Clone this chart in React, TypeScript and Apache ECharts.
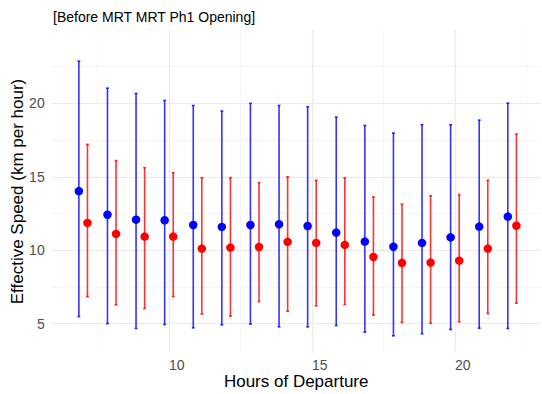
import React, { useEffect, useRef } from "react";
import * as echarts from "echarts";

const hours = [7, 8, 9, 10, 11, 12, 13, 14, 15, 16, 17, 18, 19, 20, 21, 22];
const blueMean = [14.03, 12.42, 12.08, 12.04, 11.72, 11.59, 11.72, 11.77, 11.65, 11.2, 10.59, 10.24, 10.5, 10.88, 11.61, 12.29];
const blueLow = [5.48, 5.0, 4.67, 4.94, 4.71, 4.92, 4.97, 4.78, 4.78, 4.87, 4.42, 4.17, 4.31, 4.6, 4.69, 4.67];
const blueHigh = [22.88, 21.04, 20.68, 20.2, 19.86, 19.48, 20.0, 19.86, 19.77, 19.07, 18.5, 17.98, 18.55, 18.55, 18.86, 20.02];
const redMean = [11.86, 11.11, 10.93, 10.93, 10.11, 10.18, 10.22, 10.57, 10.5, 10.36, 9.54, 9.14, 9.16, 9.29, 10.11, 11.67];
const redLow = [6.84, 6.28, 6.03, 6.84, 5.65, 5.51, 6.5, 5.85, 6.21, 6.3, 5.58, 5.08, 5.03, 5.12, 5.69, 6.39];
const redHigh = [17.21, 16.1, 15.62, 15.28, 14.94, 14.94, 14.6, 15.0, 14.76, 14.92, 13.63, 13.13, 13.71, 13.78, 14.76, 17.91];

const xMajor = [10, 15, 20];
const xMinor = [7.5, 12.5, 17.5, 22.5];
const yMajor = [5, 10, 15, 20];
const yMinor = [7.5, 12.5, 17.5, 22.5];

const DODGE = 0.15;
const CAP = 0.1;
const FONT = "'Liberation Sans', Arial, sans-serif";

function errRender(color: string) {
  return (params: any, api: any) => {
    const x = api.value(0);
    const lo = api.value(1);
    const hi = api.value(2);
    const pLo = api.coord([x, lo]);
    const pHi = api.coord([x, hi]);
    const half = api.size([CAP, 0])[0] / 2;
    const style = { stroke: color, lineWidth: 1.6, opacity: 0.8 };
    return {
      type: "group",
      children: [
        { type: "line", shape: { x1: pLo[0], y1: pLo[1], x2: pHi[0], y2: pHi[1] }, style },
        { type: "line", shape: { x1: pHi[0] - half, y1: pHi[1], x2: pHi[0] + half, y2: pHi[1] }, style },
        { type: "line", shape: { x1: pLo[0] - half, y1: pLo[1], x2: pLo[0] + half, y2: pLo[1] }, style },
      ],
    };
  };
}

export default function App() {
  const ref = useRef<HTMLDivElement>(null);
  useEffect(() => {
    if (!ref.current) return;
    const chart = echarts.init(ref.current, null, { renderer: "svg" });
    const major = { color: "#EBEBEB", width: 1.2, type: "solid" };
    const minor = { color: "#F2F2F2", width: 0.7, type: "solid" };
    const gridLines = [
      ...xMajor.map((v) => ({ xAxis: v, lineStyle: major })),
      ...xMinor.map((v) => ({ xAxis: v, lineStyle: minor })),
      ...yMajor.map((v) => ({ yAxis: v, lineStyle: major })),
      ...yMinor.map((v) => ({ yAxis: v, lineStyle: minor })),
    ];
    chart.setOption({
      animation: false,
      backgroundColor: "#FFFFFF",
      title: {
        text: "[Before MRT MRT Ph1 Opening]",
        left: 53,
        top: 10,
        padding: 0,
        textStyle: { fontFamily: FONT, fontSize: 14, fontWeight: "normal", color: "#000000" },
      },
      grid: {
        left: 51.7,
        right: 1.3,
        top: 30,
        bottom: 41,
        containLabel: false,
        outerBoundsMode: "none",
      },
      xAxis: {
        type: "value",
        min: 5.9,
        max: 23.0,
        name: "Hours of Departure",
        nameLocation: "middle",
        nameGap: 20,
        nameMoveOverlap: false,
        nameTextStyle: { fontFamily: FONT, fontSize: 17, color: "#000000" },
        axisLine: { show: false },
        axisTick: { show: false },
        splitLine: { show: false },
        axisLabel: {
          customValues: xMajor,
          align: "left",
          margin: 5,
          fontFamily: FONT,
          fontSize: 14,
          color: "#4D4D4D",
        },
      },
      yAxis: {
        type: "value",
        min: 3.0,
        max: 25.0,
        name: "Effective Speed (km per hour)",
        nameLocation: "middle",
        nameGap: 26,
        nameMoveOverlap: false,
        nameTextStyle: { fontFamily: FONT, fontSize: 17, color: "#000000" },
        axisLine: { show: false },
        axisTick: { show: false },
        splitLine: { show: false },
        axisLabel: {
          customValues: yMajor,
          margin: 7,
          fontFamily: FONT,
          fontSize: 14,
          color: "#4D4D4D",
        },
      },
      series: [
        {
          type: "line",
          data: [],
          z: 0,
          silent: true,
          markLine: {
            silent: true,
            z: 0,
            symbol: ["none", "none"],
            label: { show: false },
            emphasis: { disabled: true },
            data: gridLines,
          },
        },
        {
          type: "custom",
          z: 2,
          renderItem: errRender("#0000FF"),
          encode: { x: 0, y: [1, 2] },
          data: hours.map((h, i) => [h - DODGE, blueLow[i], blueHigh[i]]),
        },
        {
          type: "custom",
          z: 2,
          renderItem: errRender("#FF0000"),
          encode: { x: 0, y: [1, 2] },
          data: hours.map((h, i) => [h + DODGE, redLow[i], redHigh[i]]),
        },
        {
          type: "scatter",
          z: 3,
          symbolSize: 8.5,
          itemStyle: { color: "#0000FF", opacity: 1 },
          data: hours.map((h, i) => [h - DODGE, blueMean[i]]),
        },
        {
          type: "scatter",
          z: 3,
          symbolSize: 8.5,
          itemStyle: { color: "#FF0000", opacity: 1 },
          data: hours.map((h, i) => [h + DODGE, redMean[i]]),
        },
      ],
    });
    return () => chart.dispose();
  }, []);
  return (
    <div
      ref={ref}
      style={{ position: "fixed", left: 0, top: 0, width: 542, height: 394, background: "#fff" }}
    />
  );
}
